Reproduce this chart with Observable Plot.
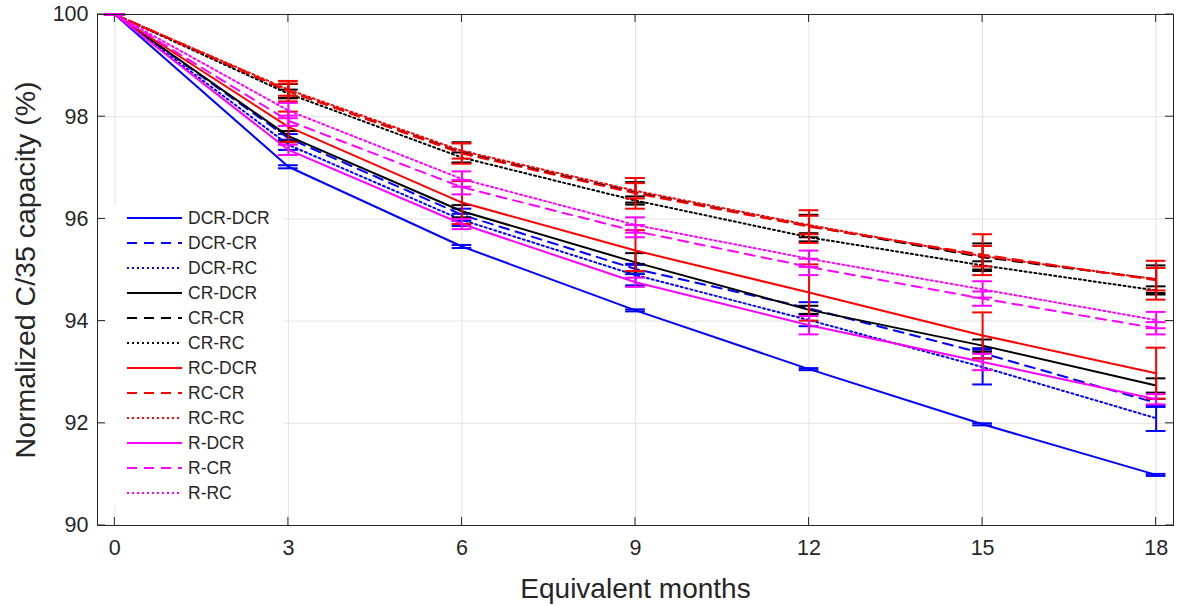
<!DOCTYPE html>
<html><head><meta charset="utf-8">
<script src="https://cdn.jsdelivr.net/npm/d3@7"></script>
<script src="https://cdn.jsdelivr.net/npm/@observablehq/plot@0.6"></script>
<style>
body{margin:0;background:#fff;}
#chart{width:1177px;height:606px;overflow:hidden;}
svg{font-family:"Liberation Sans",Arial,sans-serif;}
</style>
</head><body><div id="chart"></div>
<script>
// ---- data ----
const months = [0, 3, 6, 9, 12, 15, 18];
const xTicks = [0, 3, 6, 9, 12, 15, 18];
const yTicks = [90, 92, 94, 96, 98, 100];
const seriesNames = ["DCR-DCR","DCR-CR","DCR-RC","CR-DCR","CR-CR","CR-RC","RC-DCR","RC-CR","RC-RC","R-DCR","R-CR","R-RC"];
const seriesColors = ["#0000ff","#0000ff","#0000ff","#000000","#000000","#000000","#ff0000","#ff0000","#ff0000","#ff00ff","#ff00ff","#ff00ff"];
const seriesDash = ["none","10,7","2,3","none","10,7","2,3","none","10,7","2,3","none","10,7","2,3"];

const dcrDcr = [100, 97.02, 95.46, 94.21, 93.06, 91.98, 90.99];
const dcrCr  = [100, 97.58, 96.08, 95.02, 94.25, 93.37, 92.40];
const dcrRc  = [100, 97.45, 95.98, 94.90, 94.02, 93.10, 92.10];
const crDcr  = [100, 97.62, 96.15, 95.15, 94.22, 93.52, 92.74];
const crCr   = [100, 98.50, 97.30, 96.52, 95.86, 95.25, 94.82];
const crRc   = [100, 98.45, 97.20, 96.36, 95.64, 95.09, 94.60];
const rcDcr  = [100, 97.80, 96.32, 95.38, 94.56, 93.72, 92.98];
const rcCr   = [100, 98.50, 97.28, 96.50, 95.85, 95.30, 94.80];
const rcRc   = [100, 98.53, 97.33, 96.55, 95.88, 95.27, 94.82];
const rDcr   = [100, 97.35, 95.90, 94.76, 93.92, 93.20, 92.47];
const rCr    = [100, 97.92, 96.62, 95.76, 95.06, 94.44, 93.86];
const rRc    = [100, 98.12, 96.78, 95.88, 95.22, 94.62, 94.02];

const dcrDcrErr = [0, 0.03, 0.03, 0.02, 0.02, 0.02, 0.02];
const dcrCrErr  = [0, 0.08, 0.12, 0.1, 0.12, 0.1, 0.08];
const dcrRcErr  = [0, 0.1, 0.12, 0.2, 0.12, 0.34, 0.25];
const crDcrErr  = [0, 0.1, 0.12, 0.18, 0.08, 0.12, 0.14];
const crCrErr   = [0, 0.14, 0.2, 0.2, 0.22, 0.27, 0.27];
const crRcErr   = [0, 0.08, 0.1, 0.08, 0.08, 0.08, 0.08];
const rcDcrErr  = [0, 0.3, 0.42, 0.4, 0.55, 0.45, 0.5];
const rcCrErr   = [0, 0.2, 0.2, 0.3, 0.32, 0.4, 0.38];
const rcRcErr   = [0, 0.12, 0.15, 0.15, 0.18, 0.2, 0.22];
const rDcrErr   = [0, 0.1, 0.1, 0.09, 0.18, 0.16, 0.1];
const rCrErr    = [0, 0.1, 0.14, 0.12, 0.16, 0.14, 0.12];
const rRcErr    = [0, 0.15, 0.15, 0.15, 0.16, 0.16, 0.16];

const seriesValues = [dcrDcr, dcrCr, dcrRc, crDcr, crCr, crRc, rcDcr, rcCr, rcRc, rDcr, rCr, rRc];
const seriesErrors = [dcrDcrErr, dcrCrErr, dcrRcErr, crDcrErr, crCrErr, crRcErr, rcDcrErr, rcCrErr, rcRcErr, rDcrErr, rCrErr, rRcErr];

// ---- build ----
const capHalf = 0.17; // months
const marks = [
  Plot.gridX(xTicks, {stroke: "#e3e3e3", strokeOpacity: 1, strokeWidth: 1}),
  Plot.gridY(yTicks, {stroke: "#e3e3e3", strokeOpacity: 1, strokeWidth: 1})
];
seriesNames.forEach((name, i) => {
  const rows = months.map((t, j) => ({t, v: seriesValues[i][j], e: seriesErrors[i][j]}));
  const c = seriesColors[i];
  marks.push(Plot.line(rows, {x: "t", y: "v", stroke: c, strokeWidth: 2, strokeDasharray: seriesDash[i] === "none" ? null : seriesDash[i]}));
  marks.push(Plot.ruleX(rows, {x: "t", y1: d => d.v - d.e, y2: d => d.v + d.e, stroke: c, strokeWidth: 2}));
  marks.push(Plot.ruleY(rows, {y: d => d.v - d.e, x1: d => d.t - capHalf, x2: d => d.t + capHalf, stroke: c, strokeWidth: 2}));
  marks.push(Plot.ruleY(rows, {y: d => d.v + d.e, x1: d => d.t - capHalf, x2: d => d.t + capHalf, stroke: c, strokeWidth: 2}));
});
marks.push(
  Plot.frame({stroke: "#262626", strokeWidth: 1}),
  Plot.axisX(xTicks, {anchor: "bottom", tickSize: 0, tickPadding: 14, fontSize: 21.5, color: "#262626", label: null}),
  Plot.axisY(yTicks, {anchor: "left", tickSize: 0, tickPadding: 9, fontSize: 21.5, color: "#262626", label: null, tickFormat: d => String(d)}),
  Plot.text(["Equivalent months"], {frameAnchor: "bottom", textAnchor: "middle", dy: 72, fontSize: 28, fill: "#262626"}),
  Plot.text(["Normalized C/35 capacity (%)"], {frameAnchor: "left", textAnchor: "middle", dx: -72, rotate: -90, fontSize: 28.5, fill: "#262626"})
);

const chart = Plot.plot({
  width: 1177,
  height: 606,
  marginLeft: 97,
  marginRight: 4,
  marginTop: 14,
  marginBottom: 81,
  x: {type: "linear", domain: [-0.3, 18.3]},
  y: {type: "linear", domain: [90, 100]},
  style: {fontFamily: '"Liberation Sans", Arial, sans-serif', background: "#fff", overflow: "visible"},
  marks
});

// inward tick marks on all four sides, placed with the plot's scales
const svg = d3.select(chart);
const xs = chart.scale("x"), ys = chart.scale("y");
const tl = 8;
const x0 = xs.apply(-0.3), x1 = xs.apply(18.3), yb = ys.apply(90), yt = ys.apply(100);
const gT = svg.append("g").attr("stroke", "#262626").attr("stroke-width", 1);
xTicks.forEach(t => {
  const px = xs.apply(t);
  gT.append("line").attr("x1", px).attr("x2", px).attr("y1", yb).attr("y2", yb - tl);
  gT.append("line").attr("x1", px).attr("x2", px).attr("y1", yt).attr("y2", yt + tl);
});
yTicks.forEach(v => {
  const py = ys.apply(v);
  gT.append("line").attr("y1", py).attr("y2", py).attr("x1", x0).attr("x2", x0 + tl);
  gT.append("line").attr("y1", py).attr("y2", py).attr("x1", x1).attr("x2", x1 - tl);
});

// legend
const lg = svg.append("g").attr("transform", "translate(108,205)");
lg.append("rect").attr("x", 0).attr("y", 0).attr("width", 176).attr("height", 301).attr("fill", "#fff");
seriesNames.forEach((name, i) => {
  const yy = 13 + i * 25;
  lg.append("line").attr("x1", 19).attr("x2", 74).attr("y1", yy).attr("y2", yy)
    .attr("stroke", seriesColors[i]).attr("stroke-width", 2)
    .attr("stroke-dasharray", seriesDash[i] === "none" ? null : seriesDash[i]);
  lg.append("text").attr("x", 80).attr("y", yy).attr("dy", "0.35em").attr("font-size", 17.5)
    .attr("text-anchor", "start").attr("fill", "#262626").text(name);
});

document.getElementById("chart").appendChild(chart);
</script>
</body></html>
